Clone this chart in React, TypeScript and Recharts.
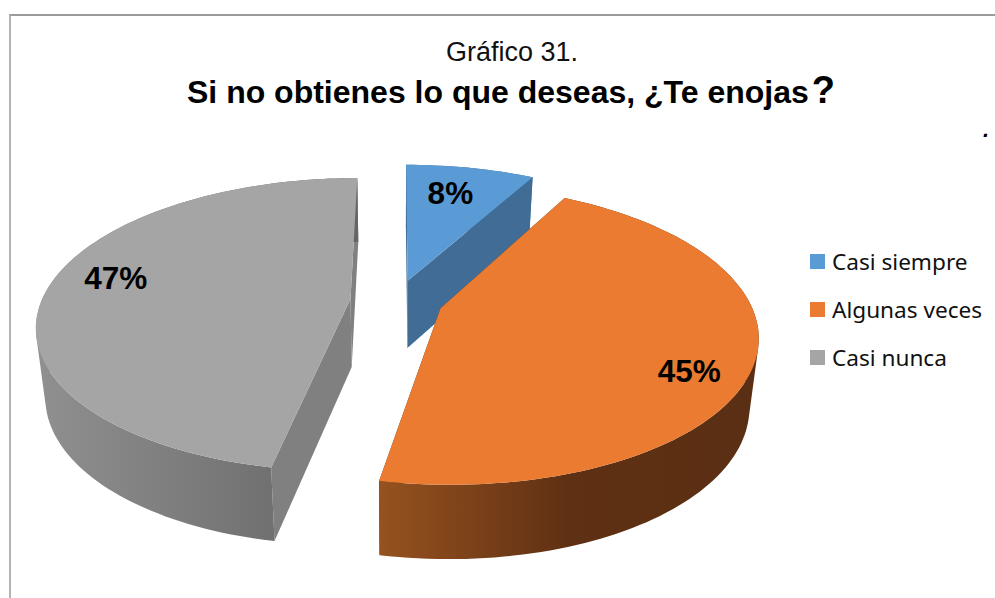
import React from "react";
import { PieChart, Pie, Legend } from "recharts";

const categories = ["Casi siempre", "Algunas veces", "Casi nunca"];
const shares = [8, 45, 47];
const topColors = ["#5b9bd5", "#ea7b30", "#a5a5a5"];
const wallFrom = ["#416c95", "#96521f", "#909090"];
const wallMid = ["#416c95", "#5f3013", "#7b7b7b"];
const wallTo = ["#416c95", "#5a2f13", "#656565"];
const radialWalls = ["#416c95", "#5f3013", "#808080"];
const labelNudges = [[-9, 5], [0, 21], [7, -10]];

const rows = categories.map((name, i) => ({ name, value: shares[i], fill: topColors[i] }));

const RAD = Math.PI / 180;
const PERSP = 0.175;
const SQUASH = 0.462;
const EXPLODE = 0.15;
const BASE_SHRINK = 0.026;
const FONT = "'Liberation Sans', Arial, sans-serif";

type Pt = { x: number; y: number };

function project(cx: number, cy: number, R: number, u: number, v: number) {
  const s = 1 / (1 - PERSP * v);
  return { x: cx + R * u * s, y: cy + R * SQUASH * v * s, d: 40 + 28 * s };
}

function discPoint(cx: number, cy: number, R: number, mid: number, angle: number, f: number) {
  const u = EXPLODE * Math.cos(mid * RAD) + f * Math.cos(angle * RAD);
  const v = -EXPLODE * Math.sin(mid * RAD) - f * Math.sin(angle * RAD);
  return project(cx, cy, R, u, v);
}

const pathOf = (pts: Pt[]) =>
  "M" + pts.map((p) => `${p.x.toFixed(1)},${p.y.toFixed(1)}`).join("L") + "Z";

function signedArea(pts: Pt[]) {
  let a = 0;
  pts.forEach((p, k) => {
    const q = pts[(k + 1) % pts.length];
    a += p.x * q.y - q.x * p.y;
  });
  return a;
}

function Slice3D(props: any) {
  const { cx, cy, outerRadius, startAngle, endAngle, name } = props;
  const i = categories.indexOf(name);
  const mid = (startAngle + endAngle) / 2;
  const steps = Math.max(8, Math.round(Math.abs(endAngle - startAngle) / 1.5));
  const arc = Array.from({ length: steps + 1 }, (_, k) =>
    discPoint(cx, cy, outerRadius, mid, startAngle + ((endAngle - startAngle) * k) / steps, 1)
  );
  const apex = discPoint(cx, cy, outerRadius, mid, mid, 0);
  const lower = (p: { x: number; y: number; d: number }) => ({
    x: p.x + (cx - p.x) * BASE_SHRINK,
    y: p.y + p.d,
  });
  const first = arc[0];
  const last = arc[arc.length - 1];
  const outer = arc
    .slice(1)
    .map((p, k) => {
      const quad = [arc[k], p, lower(p), lower(arc[k])];
      return pathOf(signedArea(quad) < 0 ? quad.slice().reverse() : quad);
    })
    .join("");
  const top = [apex, ...arc];
  const xs = arc.map((p) => p.x);
  const gid = `wall-${i}`;
  return (
    <g>
      <defs>
        <linearGradient id={gid} gradientUnits="userSpaceOnUse" x1={Math.min(...xs)} x2={Math.max(...xs)} y1={0} y2={0}>
          <stop offset="0" stopColor={wallFrom[i]} />
          <stop offset="0.5" stopColor={wallMid[i]} />
          <stop offset="1" stopColor={wallTo[i]} />
        </linearGradient>
      </defs>
      <path d={pathOf([apex, first, lower(first), lower(apex)])} fill={radialWalls[i]} />
      <path d={pathOf([apex, last, lower(last), lower(apex)])} fill={radialWalls[i]} />
      <path d={outer} fill={`url(#${gid})`} />
      <path d={pathOf(top)} fill={topColors[i]} />
    </g>
  );
}

function SliceLabel(props: any) {
  const { cx, cy, outerRadius, midAngle, index, value } = props;
  const p = discPoint(cx, cy, outerRadius, midAngle, midAngle, 0.8);
  const [dx, dy] = labelNudges[index];
  return (
    <text
      x={p.x + dx}
      y={p.y + dy}
      textAnchor="middle"
      dominantBaseline="central"
      fontFamily={FONT}
      fontWeight={700}
      fontSize={31.5}
      fill="#000"
    >
      {`${value}%`}
    </text>
  );
}

function LegendBox() {
  return (
    <div style={{ fontFamily: "'Noto Sans', sans-serif", fontSize: 22.6, color: "#111" }}>
      {categories.map((c, i) => (
        <div key={c} style={{ display: "flex", alignItems: "center", height: 48, whiteSpace: "nowrap" }}>
          <span style={{ width: 15, height: 15, background: topColors[i], marginRight: 7, display: "inline-block" }} />
          {c}
        </div>
      ))}
    </div>
  );
}

export default function App() {
  return (
    <div style={{ position: "absolute", left: 0, top: 0, width: 995, height: 598, overflow: "hidden", background: "#fff" }}>
      <div style={{ position: "absolute", left: 9, top: 14, width: 986, height: 584, borderLeft: "2px solid #b4b4b4", borderTop: "2px solid #9a9a9a", boxSizing: "border-box" }} />
      <PieChart width={995} height={598} style={{ position: "absolute", left: 0, top: 0 }}>
        <Pie
          data={rows}
          dataKey="value"
          nameKey="name"
          cx={391.5}
          cy={296}
          outerRadius={309}
          startAngle={90}
          endAngle={-270}
          stroke="none"
          shape={Slice3D}
          label={SliceLabel}
          labelLine={false}
          isAnimationActive={false}
        />
        <Legend content={LegendBox} layout="vertical" wrapperStyle={{ position: "absolute", left: 810, top: 237, width: 180 }} />
      </PieChart>
      <div style={{ position: "absolute", left: 0, width: 1024, top: 37, textAlign: "center", fontFamily: FONT, fontSize: 27, color: "#111", whiteSpace: "nowrap" }}>
        Gráfico 31.
      </div>
      <div style={{ position: "absolute", left: 0, width: 1022, top: 69, textAlign: "center", fontFamily: FONT, fontWeight: 700, fontSize: 32, color: "#000", whiteSpace: "nowrap" }}>
        Si no obtienes lo que deseas, ¿Te enojas<span style={{ fontSize: 38, marginLeft: 3 }}>?</span>
      </div>
      <div style={{ position: "absolute", left: 983, top: 117, fontFamily: FONT, fontStyle: "italic", fontWeight: 700, fontSize: 22, color: "#000" }}>.</div>
    </div>
  );
}
